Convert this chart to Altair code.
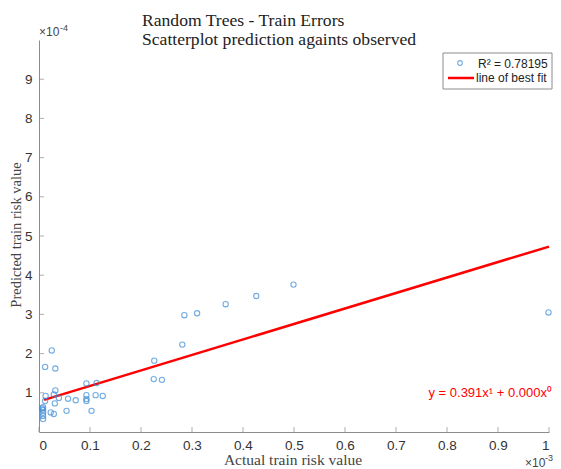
import altair as alt
import pandas as pd

# Observed (x, in units of 1e-3) vs predicted (y, in units of 1e-4)
obs_x = [0.025, 0.012, 0.032, 0.032, 0.013, 0.029, 0.039, 0.057, 0.072, 0.093,
         0.113, 0.093, 0.093, 0.093, 0.111, 0.125, 0.103, 0.054, 0.023, 0.029,
         0.031, 0.008, 0.008, 0.008, 0.008, 0.008, 0.012, 0.006, 0.226, 0.225,
         0.241, 0.281, 0.285, 0.310, 0.366, 0.426, 0.499, 0.999]
pred_y = [2.08, 1.66, 1.62, 1.06, 0.92, 0.96, 0.87, 0.85, 0.81, 1.24,
          1.25, 0.94, 0.84, 0.79, 0.94, 0.92, 0.54, 0.54, 0.50, 0.46,
          0.73, 0.63, 0.56, 0.49, 0.41, 0.33, 0.79, 0.60, 1.82, 1.35,
          1.33, 2.23, 2.98, 3.03, 3.26, 3.47, 3.76, 3.05]

fit_x = [0.01, 1.0]
fit_y = [0.82, 4.73]

x_ticks = [0, 0.1, 0.2, 0.3, 0.4, 0.5, 0.6, 0.7, 0.8, 0.9, 1]
y_ticks = [1, 2, 3, 4, 5, 6, 7, 8, 9]

title_lines = ["Random Trees - Train Errors", "Scatterplot prediction againts observed"]
x_title = "Actual train risk value"
y_title = "Predicted train risk value"
r2_label = "R\u00b2 = 0.78195"
fit_label = "line of best fit"
eq_label = "y = 0.391x\u00b9 + 0.000x\u2070"

W, H = 510, 392
AX = "#8c8c8c"
SANS = "Liberation Sans"
SERIF = "Liberation Serif"

xs = alt.Scale(domain=[0, 1], nice=False, zero=False)
ys = alt.Scale(domain=[0, 10], nice=False, zero=False)
xaxis = alt.Axis(values=x_ticks, format="~g", title=None, grid=False, ticks=False,
                 labelPadding=6, domainColor=AX, labelFont=SANS, labelFontSize=13.5,
                 labelColor="#333333")
yaxis = alt.Axis(values=y_ticks, format="~g", title=None, grid=False, ticks=False,
                 labelPadding=7, domainColor=AX, labelFont=SANS, labelFontSize=13.5,
                 labelColor="#333333")

X = lambda: alt.X("x:Q", scale=xs, axis=xaxis)
Y = lambda: alt.Y("y:Q", scale=ys, axis=yaxis)

pts = alt.Chart(pd.DataFrame({"x": obs_x, "y": pred_y})).mark_point(
    shape="circle", filled=False, size=28, strokeWidth=1.1, color="#3a8ad6"
).encode(x=X(), y=Y())

fit = alt.Chart(pd.DataFrame({"x": fit_x, "y": fit_y})).mark_line(
    color="#ff0000", strokeWidth=2.5
).encode(x=X(), y=Y())

xt = alt.Chart(pd.DataFrame({"x": x_ticks})).mark_tick(
    color=AX, size=5, thickness=1, orient="vertical"
).encode(x=X(), y=alt.value(H - 2.5))

yt = alt.Chart(pd.DataFrame({"y": y_ticks})).mark_tick(
    color=AX, size=5, thickness=1, orient="horizontal"
).encode(y=Y(), x=alt.value(2.5))

one = pd.DataFrame({"t": [""]})


def txt(s, x, y, **kw):
    return alt.Chart(pd.DataFrame({"t": [s]})).mark_text(**kw).encode(
        x=alt.value(x), y=alt.value(y), text="t:N")


leg_box = alt.Chart(one).mark_rect(fill="white", stroke=AX, strokeWidth=1).encode(
    x=alt.value(404), x2=alt.value(513), y=alt.value(13), y2=alt.value(49))
leg_pt = alt.Chart(one).mark_point(shape="circle", filled=False, size=22,
                                   strokeWidth=1.1, color="#3a8ad6").encode(
    x=alt.value(421), y=alt.value(23))
leg_line = alt.Chart(one).mark_rule(color="#ff0000", strokeWidth=2.5).encode(
    x=alt.value(409), x2=alt.value(435), y=alt.value(38))

layers = [
    xt, yt, fit, pts, leg_box, leg_pt, leg_line,
    txt(r2_label, 439, 28, align="left", baseline="alphabetic", font=SANS, fontSize=12, color="#222222"),
    txt(fit_label, 437, 42, align="left", baseline="alphabetic", font=SANS, fontSize=12, color="#222222"),
    txt(eq_label, 513, 357, align="right", baseline="alphabetic", font=SANS, fontSize=13, color="#ff0000"),
    txt(title_lines[0], 103, -14, align="left", baseline="alphabetic", font=SERIF, fontSize=17.6, color="#222222"),
    txt(title_lines[1], 103, 5, align="left", baseline="alphabetic", font=SERIF, fontSize=17.6, color="#222222"),
    txt(x_title, 254, 425, align="center", baseline="alphabetic", font=SERIF, fontSize=15.5, color="#444444"),
    txt(y_title, -18, 195, align="center", baseline="alphabetic", angle=270, font=SERIF, fontSize=14.5, color="#444444"),
    txt("\u00d710", 0, -4, align="left", baseline="alphabetic", font=SANS, fontSize=12, color="#444444"),
    txt("-4", 21, -9, align="left", baseline="alphabetic", font=SANS, fontSize=9, color="#444444"),
    txt("\u00d710", 486, 427, align="left", baseline="alphabetic", font=SANS, fontSize=12, color="#444444"),
    txt("-3", 506, 421, align="left", baseline="alphabetic", font=SANS, fontSize=9, color="#444444"),
]

chart = alt.layer(*layers).properties(
    width=W, height=H, autosize="none",
    padding={"left": 31, "top": 32, "right": 4, "bottom": 37},
    background="white",
).configure_view(stroke=None)

chart.save("out.html", embed_options={"renderer": "svg", "actions": False})
